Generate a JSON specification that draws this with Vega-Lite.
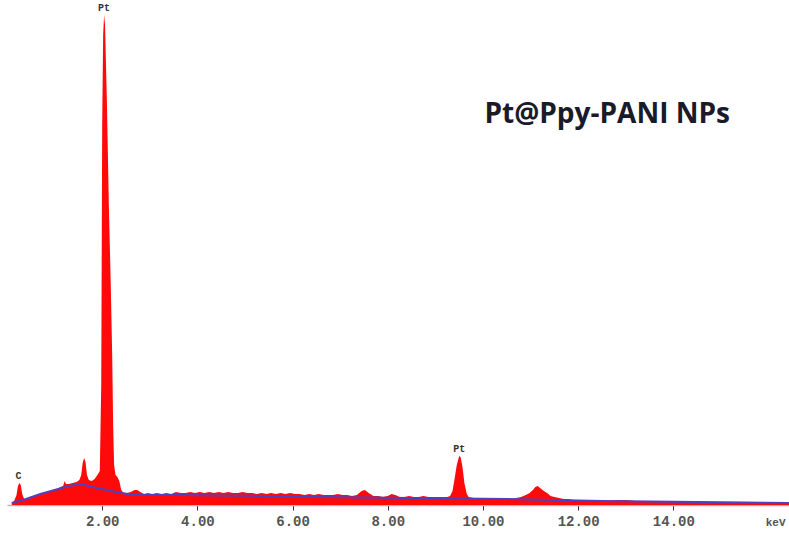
{
  "$schema": "https://vega.github.io/schema/vega-lite/v6.json",
  "width": 782,
  "height": 495,
  "autosize": {"type": "none"},
  "padding": {"left": 7, "top": 10, "right": 0, "bottom": 30},
  "background": "white",
  "config": {"view": {"stroke": null}},
  "title": {
    "text": "Pt@Ppy-PANI NPs",
    "orient": "top",
    "anchor": "end",
    "frame": "group",
    "offset": 0,
    "baseline": "alphabetic",
    "dx": -59,
    "dy": 148,
    "font": "Open Sans",
    "fontWeight": "bold",
    "fontSize": 28,
    "color": "#1a1a28"
  },
  "datasets": {
    "spectrum": [
      {"keV": 0.10, "counts": 2}, {"keV": 0.15, "counts": 4}, {"keV": 0.20, "counts": 10},
      {"keV": 0.23, "counts": 19}, {"keV": 0.26, "counts": 22}, {"keV": 0.29, "counts": 20},
      {"keV": 0.32, "counts": 11}, {"keV": 0.36, "counts": 6}, {"keV": 0.42, "counts": 6},
      {"keV": 0.50, "counts": 7}, {"keV": 0.58, "counts": 9}, {"keV": 0.66, "counts": 10},
      {"keV": 0.74, "counts": 12}, {"keV": 0.82, "counts": 12}, {"keV": 0.90, "counts": 14},
      {"keV": 0.98, "counts": 15}, {"keV": 1.06, "counts": 16}, {"keV": 1.12, "counts": 18},
      {"keV": 1.18, "counts": 19}, {"keV": 1.21, "counts": 24}, {"keV": 1.24, "counts": 21},
      {"keV": 1.30, "counts": 21}, {"keV": 1.38, "counts": 22}, {"keV": 1.46, "counts": 23},
      {"keV": 1.52, "counts": 25}, {"keV": 1.56, "counts": 30}, {"keV": 1.59, "counts": 42},
      {"keV": 1.62, "counts": 47}, {"keV": 1.65, "counts": 43}, {"keV": 1.68, "counts": 30},
      {"keV": 1.72, "counts": 25}, {"keV": 1.78, "counts": 24}, {"keV": 1.84, "counts": 26},
      {"keV": 1.90, "counts": 30}, {"keV": 1.95, "counts": 34}, {"keV": 1.98, "counts": 120},
      {"keV": 2.00, "counts": 380}, {"keV": 2.02, "counts": 470}, {"keV": 2.04, "counts": 490},
      {"keV": 2.06, "counts": 480}, {"keV": 2.08, "counts": 440}, {"keV": 2.10, "counts": 400},
      {"keV": 2.14, "counts": 300}, {"keV": 2.18, "counts": 220}, {"keV": 2.21, "counts": 150},
      {"keV": 2.23, "counts": 80}, {"keV": 2.25, "counts": 40}, {"keV": 2.28, "counts": 30},
      {"keV": 2.32, "counts": 28}, {"keV": 2.36, "counts": 24}, {"keV": 2.40, "counts": 15},
      {"keV": 2.45, "counts": 12}, {"keV": 2.52, "counts": 12}, {"keV": 2.60, "counts": 13},
      {"keV": 2.68, "counts": 15}, {"keV": 2.74, "counts": 15}, {"keV": 2.80, "counts": 13},
      {"keV": 2.88, "counts": 11}, {"keV": 2.96, "counts": 12}, {"keV": 3.05, "counts": 11},
      {"keV": 3.15, "counts": 12}, {"keV": 3.25, "counts": 11}, {"keV": 3.35, "counts": 12},
      {"keV": 3.45, "counts": 11}, {"keV": 3.55, "counts": 13}, {"keV": 3.65, "counts": 12},
      {"keV": 3.75, "counts": 12}, {"keV": 3.85, "counts": 13}, {"keV": 3.95, "counts": 12},
      {"keV": 4.05, "counts": 13}, {"keV": 4.15, "counts": 12}, {"keV": 4.25, "counts": 13},
      {"keV": 4.35, "counts": 12}, {"keV": 4.45, "counts": 13}, {"keV": 4.55, "counts": 12},
      {"keV": 4.65, "counts": 13}, {"keV": 4.75, "counts": 12}, {"keV": 4.85, "counts": 12},
      {"keV": 4.95, "counts": 13}, {"keV": 5.05, "counts": 12}, {"keV": 5.15, "counts": 12},
      {"keV": 5.25, "counts": 11}, {"keV": 5.35, "counts": 12}, {"keV": 5.45, "counts": 11},
      {"keV": 5.55, "counts": 12}, {"keV": 5.65, "counts": 11}, {"keV": 5.75, "counts": 12},
      {"keV": 5.85, "counts": 11}, {"keV": 5.95, "counts": 12}, {"keV": 6.05, "counts": 11},
      {"keV": 6.15, "counts": 11}, {"keV": 6.25, "counts": 10}, {"keV": 6.35, "counts": 11},
      {"keV": 6.45, "counts": 10}, {"keV": 6.55, "counts": 11}, {"keV": 6.65, "counts": 10},
      {"keV": 6.75, "counts": 10}, {"keV": 6.85, "counts": 10}, {"keV": 6.95, "counts": 11},
      {"keV": 7.05, "counts": 10}, {"keV": 7.15, "counts": 10}, {"keV": 7.25, "counts": 9},
      {"keV": 7.35, "counts": 10}, {"keV": 7.45, "counts": 14}, {"keV": 7.52, "counts": 15},
      {"keV": 7.60, "counts": 12}, {"keV": 7.70, "counts": 9}, {"keV": 7.80, "counts": 9},
      {"keV": 7.90, "counts": 8}, {"keV": 8.00, "counts": 9}, {"keV": 8.08, "counts": 11},
      {"keV": 8.16, "counts": 10}, {"keV": 8.25, "counts": 8}, {"keV": 8.35, "counts": 8},
      {"keV": 8.45, "counts": 9}, {"keV": 8.55, "counts": 8}, {"keV": 8.65, "counts": 8},
      {"keV": 8.75, "counts": 9}, {"keV": 8.85, "counts": 8}, {"keV": 8.95, "counts": 8},
      {"keV": 9.05, "counts": 8}, {"keV": 9.15, "counts": 8}, {"keV": 9.25, "counts": 8},
      {"keV": 9.31, "counts": 9}, {"keV": 9.36, "counts": 14}, {"keV": 9.40, "counts": 25},
      {"keV": 9.45, "counts": 40}, {"keV": 9.50, "counts": 49}, {"keV": 9.53, "counts": 48},
      {"keV": 9.57, "counts": 38}, {"keV": 9.61, "counts": 22}, {"keV": 9.66, "counts": 11},
      {"keV": 9.70, "counts": 8}, {"keV": 9.80, "counts": 7}, {"keV": 9.90, "counts": 7},
      {"keV": 10.00, "counts": 7}, {"keV": 10.10, "counts": 7}, {"keV": 10.20, "counts": 6},
      {"keV": 10.30, "counts": 7}, {"keV": 10.40, "counts": 6}, {"keV": 10.50, "counts": 6},
      {"keV": 10.60, "counts": 6}, {"keV": 10.70, "counts": 7}, {"keV": 10.80, "counts": 8},
      {"keV": 10.90, "counts": 10}, {"keV": 10.98, "counts": 12}, {"keV": 11.05, "counts": 15},
      {"keV": 11.10, "counts": 18}, {"keV": 11.15, "counts": 19}, {"keV": 11.20, "counts": 17},
      {"keV": 11.28, "counts": 14}, {"keV": 11.35, "counts": 12}, {"keV": 11.42, "counts": 9},
      {"keV": 11.50, "counts": 8}, {"keV": 11.60, "counts": 7}, {"keV": 11.70, "counts": 6},
      {"keV": 11.80, "counts": 6}, {"keV": 11.90, "counts": 5}, {"keV": 12.00, "counts": 5},
      {"keV": 12.20, "counts": 5}, {"keV": 12.40, "counts": 5}, {"keV": 12.60, "counts": 4},
      {"keV": 12.80, "counts": 5}, {"keV": 13.00, "counts": 5}, {"keV": 13.20, "counts": 4},
      {"keV": 13.40, "counts": 4}, {"keV": 13.60, "counts": 4}, {"keV": 13.80, "counts": 3},
      {"keV": 14.00, "counts": 3}, {"keV": 14.30, "counts": 3}, {"keV": 14.60, "counts": 3},
      {"keV": 15.00, "counts": 2}, {"keV": 15.50, "counts": 2}, {"keV": 16.00, "counts": 2},
      {"keV": 16.43, "counts": 2}
    ],
    "background": [
      {"keV": 0.10, "counts": 2}, {"keV": 0.40, "counts": 6}, {"keV": 0.70, "counts": 11},
      {"keV": 1.00, "counts": 15}, {"keV": 1.30, "counts": 19}, {"keV": 1.55, "counts": 21},
      {"keV": 1.80, "counts": 18}, {"keV": 2.10, "counts": 15}, {"keV": 2.40, "counts": 12},
      {"keV": 2.70, "counts": 10}, {"keV": 3.50, "counts": 10}, {"keV": 4.50, "counts": 9.5},
      {"keV": 5.50, "counts": 9}, {"keV": 6.50, "counts": 8}, {"keV": 7.50, "counts": 7.5},
      {"keV": 8.50, "counts": 7}, {"keV": 9.50, "counts": 6.5}, {"keV": 10.50, "counts": 6},
      {"keV": 11.50, "counts": 5}, {"keV": 12.50, "counts": 4}, {"keV": 13.50, "counts": 3.5},
      {"keV": 14.50, "counts": 3}, {"keV": 15.50, "counts": 2.5}, {"keV": 16.43, "counts": 2}
    ],
    "peaks": [
      {"keV": 2.04, "counts": 490, "label": "Pt"},
      {"keV": 9.50, "counts": 49, "label": "Pt"},
      {"keV": 0.24, "counts": 22, "label": "C"}
    ]
  },
  "layer": [
    {
      "data": {"name": "spectrum"},
      "mark": {"type": "area", "color": "#ff0a0a", "interpolate": "linear"},
      "encoding": {
        "x": {
          "field": "keV",
          "type": "quantitative",
          "scale": {"domain": [0, 16.43], "nice": false},
          "axis": {
            "values": [2, 4, 6, 8, 10, 12, 14],
            "format": ".2f",
            "grid": false,
            "domainColor": "#d8a8b8",
            "domainWidth": 1.5,
            "tickColor": "#333333",
            "tickSize": 5,
            "tickWidth": 1,
            "labelFont": "Liberation Mono",
            "labelFontWeight": "bold",
            "labelFontSize": 14,
            "labelColor": "#555555",
            "labelPadding": 4,
            "title": "keV",
            "titleFont": "Liberation Mono",
            "titleFontWeight": "bold",
            "titleFontSize": 11,
            "titleColor": "#555555",
            "titleAnchor": "end",
            "titleAlign": "right",
            "titleBaseline": "middle",
            "titleX": 778,
            "titleY": 17
          }
        },
        "y": {
          "field": "counts",
          "type": "quantitative",
          "scale": {"domain": [0, 495], "nice": false},
          "axis": null
        }
      }
    },
    {
      "data": {"name": "background"},
      "mark": {"type": "line", "color": "#5040c0", "strokeWidth": 2, "interpolate": "linear"},
      "encoding": {
        "x": {"field": "keV", "type": "quantitative"},
        "y": {"field": "counts", "type": "quantitative"}
      }
    },
    {
      "data": {"name": "peaks"},
      "mark": {
        "type": "text",
        "baseline": "bottom",
        "dy": -2,
        "font": "Liberation Mono",
        "fontWeight": "bold",
        "fontSize": 10,
        "color": "#333333"
      },
      "encoding": {
        "x": {"field": "keV", "type": "quantitative"},
        "y": {"field": "counts", "type": "quantitative"},
        "text": {"field": "label"}
      }
    }
  ]
}
